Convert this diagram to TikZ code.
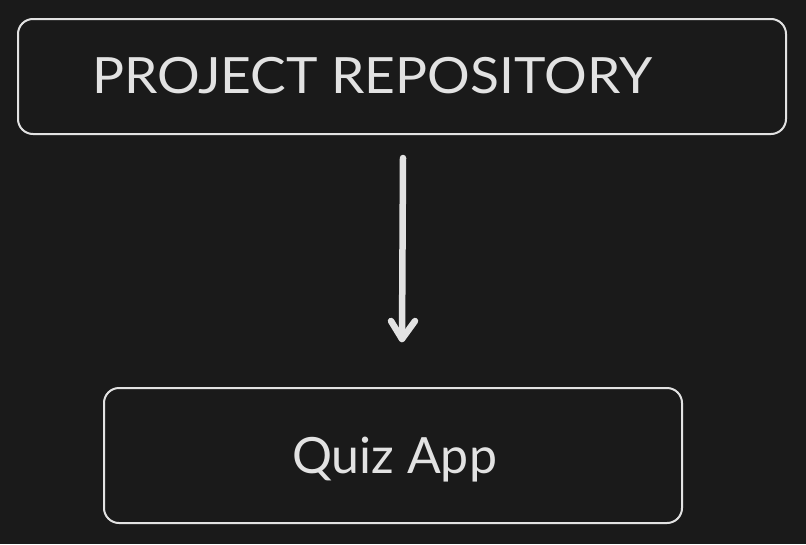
\documentclass[tikz,border=0pt]{standalone}
\usepackage{fontspec}
\setmainfont{Lato}
\usetikzlibrary{arrows.meta}
\definecolor{bg}{HTML}{1A1A1A}
\definecolor{ink}{HTML}{E2E2E2}
\begin{document}
\begin{tikzpicture}[x=1pt,y=-1pt,
  boxstyle/.style={draw=ink, line width=2pt, rounded corners=15pt, fill=bg},
  labelstyle/.style={text=ink, font=\fontsize{50}{56}\selectfont, inner sep=0pt, anchor=base west},
  arrowline/.style={draw=ink, line width=6.5pt, line cap=round, line join=round}]
\fill[bg] (0,0) rectangle (806,544);
\useasboundingbox (0,0) rectangle (806,544);
\draw[boxstyle] (18,19) rectangle (786,134);
\node[labelstyle, xscale=1.067] (repo) at (92,93) {PROJECT REPOSITORY};
\draw[boxstyle] (104,388) rectangle (682,523);
\node[labelstyle] (quiz) at (292,473) {Quiz App};
\coordinate (top) at (403,158);
\coordinate (bot) at (402,339);
\coordinate (hl) at (391,321);
\coordinate (hr) at (415,321);
\draw[arrowline] (top) -- (bot);
\draw[arrowline] (hl) -- (bot) -- (hr);
\end{tikzpicture}
\end{document}
